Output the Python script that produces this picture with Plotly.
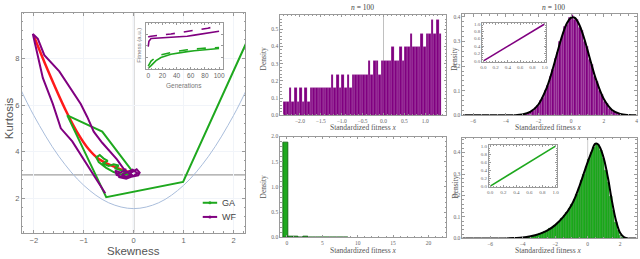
import plotly.graph_objects as go

W, H = 640, 259
PURPLE = "#800080"
GREEN = "#1ea81e"
RED = "#ff1a1a"
GRAYTXT = "#555555"
SANS = "Liberation Sans"
SERIF = "Liberation Serif"

# ---------------- data: left panel (skewness / kurtosis) ----------------
bound_skew = [-2.3, -2.0, -1.5, -1.0, -0.5, 0.0, 0.5, 1.0, 1.5, 2.0, 2.3]
bound_kurt = [6.84, 5.55, 3.80, 2.55, 1.80, 1.55, 1.80, 2.55, 3.80, 5.55, 6.84]

red_skew = [-1.99, -1.72, -1.36, -1.10, -0.90, -0.70, -0.44, -0.20, -0.05]
red_kurt = [8.92, 7.50, 5.77, 4.72, 4.10, 3.68, 3.40, 3.19, 3.10]

ga_skew = [2.30, 0.99, -0.55, -1.33, -0.63, -0.04, -0.12, -0.25, -0.40, -0.55, -0.70,
           -0.75, -0.68, -0.60, -0.52, -0.62, -0.50, -0.40, -0.30, -0.38, -0.25,
           -0.15, -0.22, -0.10, -0.05]
ga_kurt = [8.88, 2.70, 2.04, 5.56, 4.86, 3.19, 3.10, 3.02, 3.12, 3.30, 3.55,
           3.75, 3.85, 3.70, 3.60, 3.50, 3.38, 3.45, 3.40, 3.28, 3.20,
           3.15, 3.05, 3.00, 3.10]

wf_skew = [-0.57, -1.23, -1.46, -1.62, -1.82, -2.02, -1.92, -1.79, -1.49, -1.06, -0.93,
           -0.80, -0.63, -0.34, -0.20, -0.15, -0.27, -0.37, -0.34, -0.20, -0.10, -0.05,
           0.06, 0.12, 0.09, -0.05, -0.15, -0.29, -0.31, -0.18, -0.08, 0.00, 0.07,
           -0.02, -0.13, -0.24, -0.12, -0.03]
wf_kurt = [2.21, 4.44, 5.00, 6.05, 7.17, 9.06, 8.85, 8.15, 7.45, 6.05, 5.49,
           4.86, 4.38, 3.68, 3.26, 3.22, 3.10, 3.18, 3.00, 2.88, 2.95, 3.10,
           3.24, 3.10, 2.98, 2.92, 2.84, 2.90, 3.05, 3.18, 3.05, 2.95, 3.08,
           3.22, 3.12, 3.00, 2.90, 3.00]

legend_names = ["GA", "WF"]

# inset: fitness vs generations (a.u.)
gens = [0, 1, 4, 11, 18, 32, 41, 55, 65, 74, 84, 100]
wf_best = [0.69, 0.70, 0.71, 0.73, 0.74, 0.76, 0.78, 0.82, 0.85, 0.87, 0.89, 0.94]
wf_mean = [0.48, 0.60, 0.66, 0.665, 0.67, 0.69, 0.69, 0.71, 0.735, 0.76, 0.78, 0.82]
ga_best = [0.05, 0.08, 0.16, 0.25, 0.30, 0.35, 0.38, 0.41, 0.43, 0.44, 0.45, 0.46]
ga_mean = [0.00, 0.02, 0.06, 0.17, 0.24, 0.31, 0.34, 0.37, 0.39, 0.405, 0.42, 0.44]

# ---------------- data: middle column histograms ----------------
mt_start, mt_width = -2.39, 0.063
mt_density_per_count = 0.0795
mt_counts = [1, 1, 2, 1, 2, 1, 2, 1, 2, 1, 2, 2, 2, 2, 2, 2, 2, 2,
             3, 2, 3, 2, 3, 2, 3, 2, 3, 3, 3, 3, 3, 3,
             4, 3, 4, 4, 3, 4, 4, 4,
             4, 5, 4, 4, 5, 4, 5, 5, 6, 5, 5, 5, 6, 5, 6, 6, 7, 6, 7, 6]

mb_start, mb_width = -0.47, 0.70
mb_density = [1.89, 0.012, 0.010, 0.008, 0.010, 0.006, 0.008, 0.005, 0.006, 0.004, 0.005, 0.004, 0.003]

# ---------------- data: right column histograms ----------------
rt_start, rt_width = -3.0, 0.15
rt_density = [0.005, 0.007, 0.010, 0.016, 0.020, 0.031, 0.040, 0.060, 0.072, 0.101,
              0.122, 0.160, 0.185, 0.230, 0.255, 0.300, 0.322, 0.362, 0.371, 0.398,
              0.412, 0.390, 0.389, 0.358, 0.345, 0.300, 0.280, 0.229, 0.205, 0.160,
              0.137, 0.100, 0.085, 0.058, 0.048, 0.030, 0.025, 0.014, 0.012, 0.006]
rt_curve_x = [-6.6, -5.0, -4.0, -3.5, -3.0, -2.5, -2.0, -1.5, -1.25, -1.0, -0.75, -0.5, -0.25,
              0.0, 0.1, 0.25, 0.5, 0.75, 1.0, 1.25, 1.5, 2.0, 2.5, 3.0, 3.5, 4.0]
rt_curve_y = [0.0, 0.0, 0.0002, 0.0006, 0.0033, 0.0136, 0.044, 0.111, 0.160, 0.218, 0.278, 0.333, 0.375,
              0.397, 0.399, 0.395, 0.368, 0.323, 0.266, 0.206, 0.150, 0.066, 0.022, 0.006, 0.0012, 0.0]

rb_start, rb_width = -4.05, 0.15
rb_density = [0.004, 0.006, 0.007, 0.010, 0.012, 0.015, 0.018, 0.021, 0.026, 0.031,
              0.038, 0.044, 0.050, 0.060, 0.068, 0.079, 0.092, 0.107, 0.121, 0.138,
              0.158, 0.180, 0.205, 0.237, 0.268, 0.300, 0.335, 0.368, 0.398, 0.425,
              0.440, 0.436, 0.410, 0.370, 0.318, 0.262, 0.195, 0.130, 0.075, 0.035,
              0.013, 0.004]
rb_curve_x = [-7.7, -5.5, -4.5, -4.0, -3.5, -3.0, -2.5, -2.0, -1.5, -1.0, -0.75, -0.5, -0.25,
              0.0, 0.25, 0.45, 0.6, 0.75, 1.0, 1.25, 1.5, 1.75, 2.0, 2.25, 2.5, 3.0]
rb_curve_y = [0.0, 0.0, 0.002, 0.004, 0.010, 0.020, 0.036, 0.062, 0.100, 0.155, 0.195, 0.245, 0.300,
              0.355, 0.405, 0.440, 0.440, 0.425, 0.370, 0.280, 0.170, 0.080, 0.025, 0.005, 0.0, 0.0]

pp_x = [0.0, 0.25, 0.5, 0.75, 1.0]
pp_y = [0.0, 0.25, 0.5, 0.75, 1.0]

# ---------------- helpers ----------------
def dx(px):
    return px / W

def dy(py):
    return 1 - py / H

def centers(start, width, n):
    return [start + width * (i + 0.5) for i in range(n)]

def minus(s):
    return s.replace("-", "\u2212")

fig = go.Figure()

# ---- left panel traces
fig.add_trace(go.Scatter(x=bound_skew, y=bound_kurt, mode="lines", line=dict(color="#a9bddb", width=1, shape="spline"),
                         showlegend=False, xaxis="x", yaxis="y", hoverinfo="skip"))
fig.add_trace(go.Scatter(x=red_skew, y=red_kurt, mode="lines", line=dict(color=RED, width=2.5, shape="spline"),
                         showlegend=False, xaxis="x", yaxis="y"))
fig.add_trace(go.Scatter(x=ga_skew, y=ga_kurt, mode="lines", line=dict(color=GREEN, width=2), name="GA",
                         showlegend=False, xaxis="x", yaxis="y"))
fig.add_trace(go.Scatter(x=wf_skew, y=wf_kurt, mode="lines", line=dict(color=PURPLE, width=2), name="WF",
                         showlegend=False, xaxis="x", yaxis="y"))

# ---- left inset
for vals, col, dash in [(wf_best, PURPLE, "dash"), (wf_mean, PURPLE, "solid"),
                        (ga_best, GREEN, "dash"), (ga_mean, GREEN, "solid")]:
    fig.add_trace(go.Scatter(x=gens, y=vals, mode="lines", line=dict(color=col, width=1.6, dash=dash),
                             showlegend=False, xaxis="x2", yaxis="y2"))

# ---- middle top
fig.add_trace(go.Bar(x=centers(mt_start, mt_width, len(mt_counts)),
                     y=[c * mt_density_per_count for c in mt_counts], width=mt_width,
                     marker=dict(color=PURPLE, line=dict(width=0.3, color="rgba(255,255,255,0.5)")),
                     showlegend=False, xaxis="x3", yaxis="y3"))
# ---- middle bottom
fig.add_trace(go.Bar(x=centers(mb_start, mb_width, len(mb_density)), y=mb_density, width=mb_width,
                     marker=dict(color=GREEN, line=dict(width=0.8, color="#0a5a0a")),
                     showlegend=False, xaxis="x4", yaxis="y4"))
# ---- right top
fig.add_trace(go.Bar(x=centers(rt_start, rt_width, len(rt_density)), y=rt_density, width=rt_width,
                     marker=dict(color=PURPLE, line=dict(width=0.4, color="rgba(255,255,255,0.45)")),
                     showlegend=False, xaxis="x5", yaxis="y5"))
fig.add_trace(go.Scatter(x=rt_curve_x, y=rt_curve_y, mode="lines", line=dict(color="black", width=2, shape="spline"),
                         showlegend=False, xaxis="x5", yaxis="y5"))
# ---- right bottom
fig.add_trace(go.Bar(x=centers(rb_start, rb_width, len(rb_density)), y=rb_density, width=rb_width,
                     marker=dict(color="#22b022", line=dict(width=0.4, color="rgba(0,90,0,0.6)")),
                     showlegend=False, xaxis="x6", yaxis="y6"))
fig.add_trace(go.Scatter(x=rb_curve_x, y=rb_curve_y, mode="lines", line=dict(color="black", width=2, shape="spline"),
                         showlegend=False, xaxis="x6", yaxis="y6"))
# ---- P-P insets
fig.add_trace(go.Scatter(x=pp_x, y=pp_y, mode="lines", line=dict(color=PURPLE, width=1.6),
                         showlegend=False, xaxis="x7", yaxis="y7"))
fig.add_trace(go.Scatter(x=pp_x, y=pp_y, mode="lines", line=dict(color=GREEN, width=1.6),
                         showlegend=False, xaxis="x8", yaxis="y8"))

# ---------------- axes ----------------
def frame_axis(domain, rng, tickvals, ticktext, font, size, anchor, minor_dtick=None, showlabels=True,
               grid=False, ticklen=3):
    d = dict(domain=domain, range=rng, tickvals=tickvals, ticktext=ticktext, anchor=anchor,
             showline=True, linecolor="#9a9a9a", linewidth=1, mirror="allticks",
             ticks="inside", ticklen=ticklen, tickcolor="#9a9a9a", tickwidth=0.8,
             tickfont=dict(family=font, size=size, color="#666666"), zeroline=False,
             showgrid=grid, gridcolor="#f1f4f9", gridwidth=0.8, showticklabels=showlabels,
             fixedrange=True, layer="above traces")
    if minor_dtick:
        d["minor"] = dict(dtick=minor_dtick, ticks="inside", ticklen=ticklen * 0.5, tickcolor="#9a9a9a",
                          showgrid=False)
    return d

lay = {}
# left main
lay["xaxis"] = frame_axis([dx(20), dx(245)], [-2.24, 2.24], [-2, -1, 0, 1, 2],
                          [minus(t) for t in ["-2", "-1", "0", "1", "2"]], SANS, 7.5, "y", 0.2, grid=True)
lay["yaxis"] = frame_axis([dy(235), dy(10)], [0.52, 9.97], [2, 4, 6, 8], ["2", "4", "6", "8"],
                          SANS, 7.5, "x", 0.4, grid=True)
# left inset
lay["xaxis2"] = frame_axis([dx(145), dx(222)], [-3, 105], [0, 20, 40, 60, 80, 100],
                           ["0", "20", "40", "60", "80", "100"], SANS, 6.5, "y2", 5, ticklen=2)
lay["yaxis2"] = frame_axis([dy(67.3), dy(20.7)], [-0.01, 1.0], [0, 0.25, 0.5, 0.75, 1.0], None,
                           SANS, 6, "x2", None, showlabels=False, ticklen=2)
# middle top
mt_ticks = [-2, -1.5, -1, -0.5, 0, 0.5, 1]
lay["xaxis3"] = frame_axis([dx(280), dx(447)], [-2.47, 1.5], mt_ticks,
                           [minus(f"{v:.1f}") for v in mt_ticks], SERIF, 5.5, "y3", 0.1, ticklen=2.5)
lay["yaxis3"] = frame_axis([dy(115), dy(12)], [0, 0.585], [0, 0.1, 0.2, 0.3, 0.4, 0.5],
                           ["0.0", "0.1", "0.2", "0.3", "0.4", "0.5"], SERIF, 5.5, "x3", 0.02, ticklen=2.5)
# middle bottom
lay["xaxis4"] = frame_axis([dx(280), dx(447)], [-0.94, 22.5], [0, 5, 10, 15, 20],
                           ["0", "5", "10", "15", "20"], SERIF, 5.5, "y4", 1, ticklen=2.5)
lay["yaxis4"] = frame_axis([dy(240), dy(136.7)], [0, 2.0], [0, 0.5, 1.0, 1.5, 2.0],
                           ["0.0", "0.5", "1.0", "1.5", "2.0"], SERIF, 5.5, "x4", 0.1, ticklen=2.5)
# right top
lay["xaxis5"] = frame_axis([dx(463.3), dx(638.5)], [-6.65, 4.0], [-6, -4, -2, 0, 2, 4],
                           [minus(t) for t in ["-6", "-4", "-2", "0", "2", "4"]], SERIF, 5.5, "y5", 0.5, ticklen=2.5)
lay["yaxis5"] = frame_axis([dy(115), dy(11.7)], [0, 0.41], [0, 0.1, 0.2, 0.3, 0.4],
                           ["0.0", "0.1", "0.2", "0.3", "0.4"], SERIF, 5.5, "x5", 0.02, ticklen=2.5)
# right bottom
lay["xaxis6"] = frame_axis([dx(463.3), dx(638.5)], [-7.7, 3.0], [-6, -4, -2, 0, 2],
                           [minus(t) for t in ["-6", "-4", "-2", "0", "2"]], SERIF, 5.5, "y6", 0.5, ticklen=2.5)
lay["yaxis6"] = frame_axis([dy(241), dy(137.7)], [0, 0.47], [0, 0.1, 0.2, 0.3, 0.4],
                           ["0.0", "0.1", "0.2", "0.3", "0.4"], SERIF, 5.5, "x6", 0.02, ticklen=2.5)
# insets
pp_ticks = [0, 0.2, 0.4, 0.6, 0.8, 1.0]
pp_text = ["0.0", "0.2", "0.4", "0.6", "0.8", "1.0"]
lay["xaxis7"] = frame_axis([dx(483.3), dx(547.3)], [-0.02, 1.02], pp_ticks, pp_text, SERIF, 5, "y7", 0.05, ticklen=2)
lay["yaxis7"] = frame_axis([dy(60), dy(20.7)], [-0.02, 1.02], pp_ticks, pp_text, SERIF, 5, "x7", 0.05, ticklen=2)
lay["xaxis8"] = frame_axis([dx(490), dx(558.3)], [-0.02, 1.02], pp_ticks, pp_text, SERIF, 5, "y8", 0.05, ticklen=2)
lay["yaxis8"] = frame_axis([dy(188.3), dy(145.7)], [-0.02, 1.02], pp_ticks, pp_text, SERIF, 5, "x8", 0.05, ticklen=2)

fig.update_layout(**lay)

# reference lines
shapes = [
    dict(type="line", xref="x", yref="y domain", x0=0, x1=0, y0=0, y1=1, line=dict(color="#b0b0b0", width=1.5), layer="below"),
    dict(type="line", xref="x domain", yref="y", x0=0, x1=1, y0=3, y1=3, line=dict(color="#a0a0a0", width=1.2), layer="below"),
    dict(type="line", xref="x3", yref="y3 domain", x0=0, x1=0, y0=0, y1=1, line=dict(color="#b0b0b0", width=0.8), layer="below"),
    dict(type="line", xref="x6", yref="y6 domain", x0=0, x1=0, y0=0, y1=1, line=dict(color="#c0c0c0", width=0.8), layer="below"),
]

# text annotations
def ann(text, x, y, size, font=SANS, angle=0, color=GRAYTXT, xanchor="center"):
    return dict(text=text, x=dx(x), y=dy(y), xref="paper", yref="paper", showarrow=False,
                textangle=angle, font=dict(family=font, size=size, color=color), xanchor=xanchor, yanchor="middle")

annotations = [
    ann("Kurtosis", 7, 118, 11.5, angle=-90),
    ann("Skewness", 132, 253.5, 11.5),
    ann("Fitness (a.u.)", 137.5, 43, 6, angle=-90, color="#777777"),
    ann("Generations", 183, 84, 6.5, color="#777777"),
    ann("<i>n</i> = 100", 363, 4.5, 7.5, font=SERIF, color="#444444"),
    ann("<i>n</i> = 100", 555, 4.5, 7.5, font=SERIF, color="#444444"),
    ann("Density", 263.5, 57, 7.5, font=SERIF, angle=-90),
    ann("Density", 263.5, 188, 7.5, font=SERIF, angle=-90),
    ann("Density", 456, 57, 7.5, font=SERIF, angle=-90),
    ann("Density", 456, 188, 7.5, font=SERIF, angle=-90),
    ann("Standardized fitness <i>x</i>", 363, 127, 7.5, font=SERIF),
    ann("Standardized fitness <i>x</i>", 363, 253.5, 7.5, font=SERIF),
    ann("Standardized fitness <i>x</i>", 549, 127, 7.5, font=SERIF),
    ann("Standardized fitness <i>x</i>", 549, 253.5, 7.5, font=SERIF),
]

# manual legend (GA / WF) in the lower right of the left panel
for name, col, ypx in zip(legend_names, [GREEN, PURPLE], [204.5, 219]):
    shapes.append(dict(type="line", xref="paper", yref="paper", x0=dx(202), x1=dx(216.5), y0=dy(ypx), y1=dy(ypx),
                       line=dict(color=col, width=2)))
    shapes.append(dict(type="circle", xref="paper", yref="paper", x0=dx(207.7), x1=dx(210.8),
                       y0=dy(ypx + 1.55), y1=dy(ypx - 1.55), fillcolor=col, line=dict(width=0)))
    annotations.append(ann(name, 219.5, ypx, 9, color="#444444", xanchor="left"))

fig.update_layout(
    width=W, height=H, margin=dict(l=0, r=0, t=0, b=0),
    paper_bgcolor="white", plot_bgcolor="white",
    shapes=shapes, annotations=annotations, bargap=0, barmode="overlay",
    showlegend=False,
)

fig.write_html("out.html", config={"displayModeBar": False},
               post_script="document.body.style.margin='0';document.body.style.overflow='hidden';")
